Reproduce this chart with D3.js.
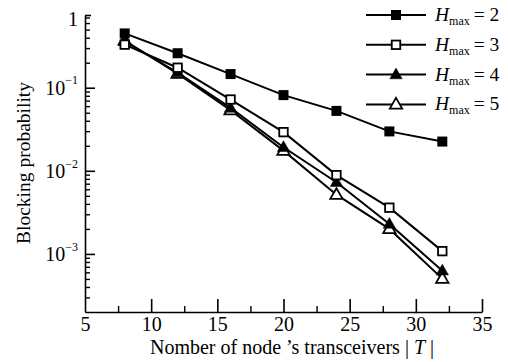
<!DOCTYPE html>
<html>
<head>
<meta charset="utf-8">
<script src="https://cdn.jsdelivr.net/npm/d3@7"></script>
<style>
  body { margin: 0; background: #fff; }
  text { font-family: "Liberation Serif", "Times New Roman", serif; fill: #000; }
</style>
</head>
<body>
<svg id="chart" width="508" height="362"></svg>
<script>
const transceivers = [8, 12, 16, 20, 24, 28, 32];
const hmaxLabels = ["2", "3", "4", "5"];
const hmax2 = [0.45, 0.26, 0.146, 0.0815, 0.0526, 0.0298, 0.0225];
const hmax3 = [0.33, 0.174, 0.0721, 0.0292, 0.00887, 0.0036, 0.00108];
const hmax4 = [0.36, 0.152, 0.0571, 0.0192, 0.00728, 0.00229, 0.000628];
const hmax5 = [0.37, 0.148, 0.0536, 0.0175, 0.00516, 0.0020, 0.000504];
const xTicks = [5, 10, 15, 20, 25, 30, 35];
const xMinor = [7.5, 12.5, 17.5, 22.5, 27.5, 32.5];
const yMajor = [1e-1, 1e-2, 1e-3];

translate = function(a, b) {
  return "translate(" + a + ", " + b + ")";
}

const series = [
  { label: hmaxLabels[0], values: hmax2, shape: "square", filled: true },
  { label: hmaxLabels[1], values: hmax3, shape: "square", filled: false },
  { label: hmaxLabels[2], values: hmax4, shape: "triangle", filled: true },
  { label: hmaxLabels[3], values: hmax5, shape: "triangle", filled: false }
];

const svg = d3.select("#chart");

let x = d3.scaleLinear().domain([5, 35]).range([85, 482]);
let y = d3.scaleLog().domain([2e-4, 0.75]).range([312, 15]);

// minor log ticks
let yMinor = [];
for (let e = -4; e <= -1; e++) {
  for (let k = 2; k <= 9; k++) {
    let v = k * Math.pow(10, e);
    if (v > y.domain()[0] && v < y.domain()[1]) yMinor.push(v);
  }
}

// x axis
let xAxis = d3.axisBottom(x).tickValues(xTicks).tickSizeInner(-13).tickSizeOuter(0).tickPadding(5);
let xGroup = svg.append("g").attr("transform", translate(0, 312)).call(xAxis);
xGroup.selectAll(".tick line").attr("stroke-width", 1.6);
xGroup.selectAll(".tick").filter(d => d === 5).select("line").remove();
xGroup.select(".domain").attr("stroke-width", 1.6);
xGroup.selectAll("text").attr("font-size", 20);

let xMinorAxis = d3.axisBottom(x).tickValues(xMinor).tickSizeInner(-6).tickSizeOuter(0).tickFormat("");
let xMinorGroup = svg.append("g").attr("transform", translate(0, 312)).call(xMinorAxis);
xMinorGroup.select(".domain").remove();
xMinorGroup.selectAll(".tick line").attr("stroke-width", 1.4);

// y axis
let yTickValues = yMajor.concat([y.domain()[1]]);
let yAxis = d3.axisLeft(y).tickValues(yTickValues).tickSizeInner(-10).tickSizeOuter(0).tickPadding(7).tickFormat("");
let yGroup = svg.append("g").attr("transform", translate(85, 0)).call(yAxis);
yGroup.select(".domain").attr("stroke-width", 1.6);
yGroup.selectAll(".tick line").attr("stroke-width", 1.6);
yGroup.selectAll(".tick").filter(d => d === y.domain()[1]).select("line").attr("x2", 6);
yGroup.selectAll(".tick text").each(function(d) {
  let label = d3.select(this);
  label.attr("font-size", 20).attr("dy", "0.32em");
  if (d === y.domain()[1]) {
    label.attr("dy", "0.5em").text("1");
  } else {
    let e = Math.round(Math.log10(d));
    label.append("tspan").text("10");
    label.append("tspan").attr("font-size", 12).attr("dy", "-0.85em").text("\u2212" + Math.abs(e));
  }
});

let yMinorAxis = d3.axisLeft(y).tickValues(yMinor).tickSizeInner(-5).tickSizeOuter(0).tickFormat("");
let yMinorGroup = svg.append("g").attr("transform", translate(85, 0)).call(yMinorAxis);
yMinorGroup.select(".domain").remove();
yMinorGroup.selectAll(".tick line").attr("stroke-width", 1.4);

// marker drawing
drawMarker = function(g, s, cx, cy) {
  if (s.shape === "square") {
    let size = s.filled ? 10 : 8.5;
    g.append("rect")
      .attr("x", cx - size / 2)
      .attr("y", cy - size / 2)
      .attr("width", size)
      .attr("height", size)
      .attr("fill", s.filled ? "#000" : "#fff")
      .attr("stroke", "#000")
      .attr("stroke-width", s.filled ? 0 : 1.8);
  } else {
    let r = 6.5;
    let pts = [[cx, cy - r], [cx + r * 0.95, cy + r * 0.65], [cx - r * 0.95, cy + r * 0.65]];
    g.append("path")
      .attr("d", "M" + pts.map(p => p.join(",")).join("L") + "Z")
      .attr("fill", s.filled ? "#000" : "#fff")
      .attr("stroke", "#000")
      .attr("stroke-width", s.filled ? 0.5 : 1.8);
  }
}

let line = d3.line()
  .x(d => x(d.x))
  .y(d => y(d.y));

// draw series, last first so H=2 ends on top
let plot = svg.append("g");
series.slice().reverse().forEach(function(s) {
  let pts = transceivers.map((t, i) => ({ x: t, y: s.values[i] }));
  let g = plot.append("g");
  g.append("path")
    .datum(pts)
    .attr("d", line)
    .attr("fill", "none")
    .attr("stroke", "#000")
    .attr("stroke-width", 2);
  pts.forEach(p => drawMarker(g, s, x(p.x), y(p.y)));
});

// legend
let legend = svg.append("g").attr("transform", translate(366, 15));
series.forEach(function(s, i) {
  let row = legend.append("g").attr("transform", translate(0, i * 29.8));
  row.append("line")
    .attr("x1", 0).attr("x2", 60)
    .attr("y1", 0).attr("y2", 0)
    .attr("stroke", "#000")
    .attr("stroke-width", 2);
  drawMarker(row, s, 30, 0);
  let t = row.append("text").attr("x", 69).attr("y", 6).attr("font-size", 19.5);
  t.append("tspan").attr("font-style", "italic").text("H");
  t.append("tspan").attr("font-size", 12).attr("dy", 4).text("max");
  t.append("tspan").attr("dy", -4).text("\u2009= " + s.label);
});

// axis titles
svg.append("text")
  .attr("text-anchor", "middle")
  .attr("font-size", 19.5)
  .attr("transform", translate(30, 163) + " rotate(-90)")
  .text("Blocking probability");

let xTitle = svg.append("text")
  .attr("text-anchor", "middle")
  .attr("font-size", 20)
  .attr("x", 292)
  .attr("y", 354);
xTitle.append("tspan").text("Nomber of node \u2019s transceivers | ");
xTitle.append("tspan").attr("font-style", "italic").text("T");
xTitle.append("tspan").text(" |");
</script>
</body>
</html>
